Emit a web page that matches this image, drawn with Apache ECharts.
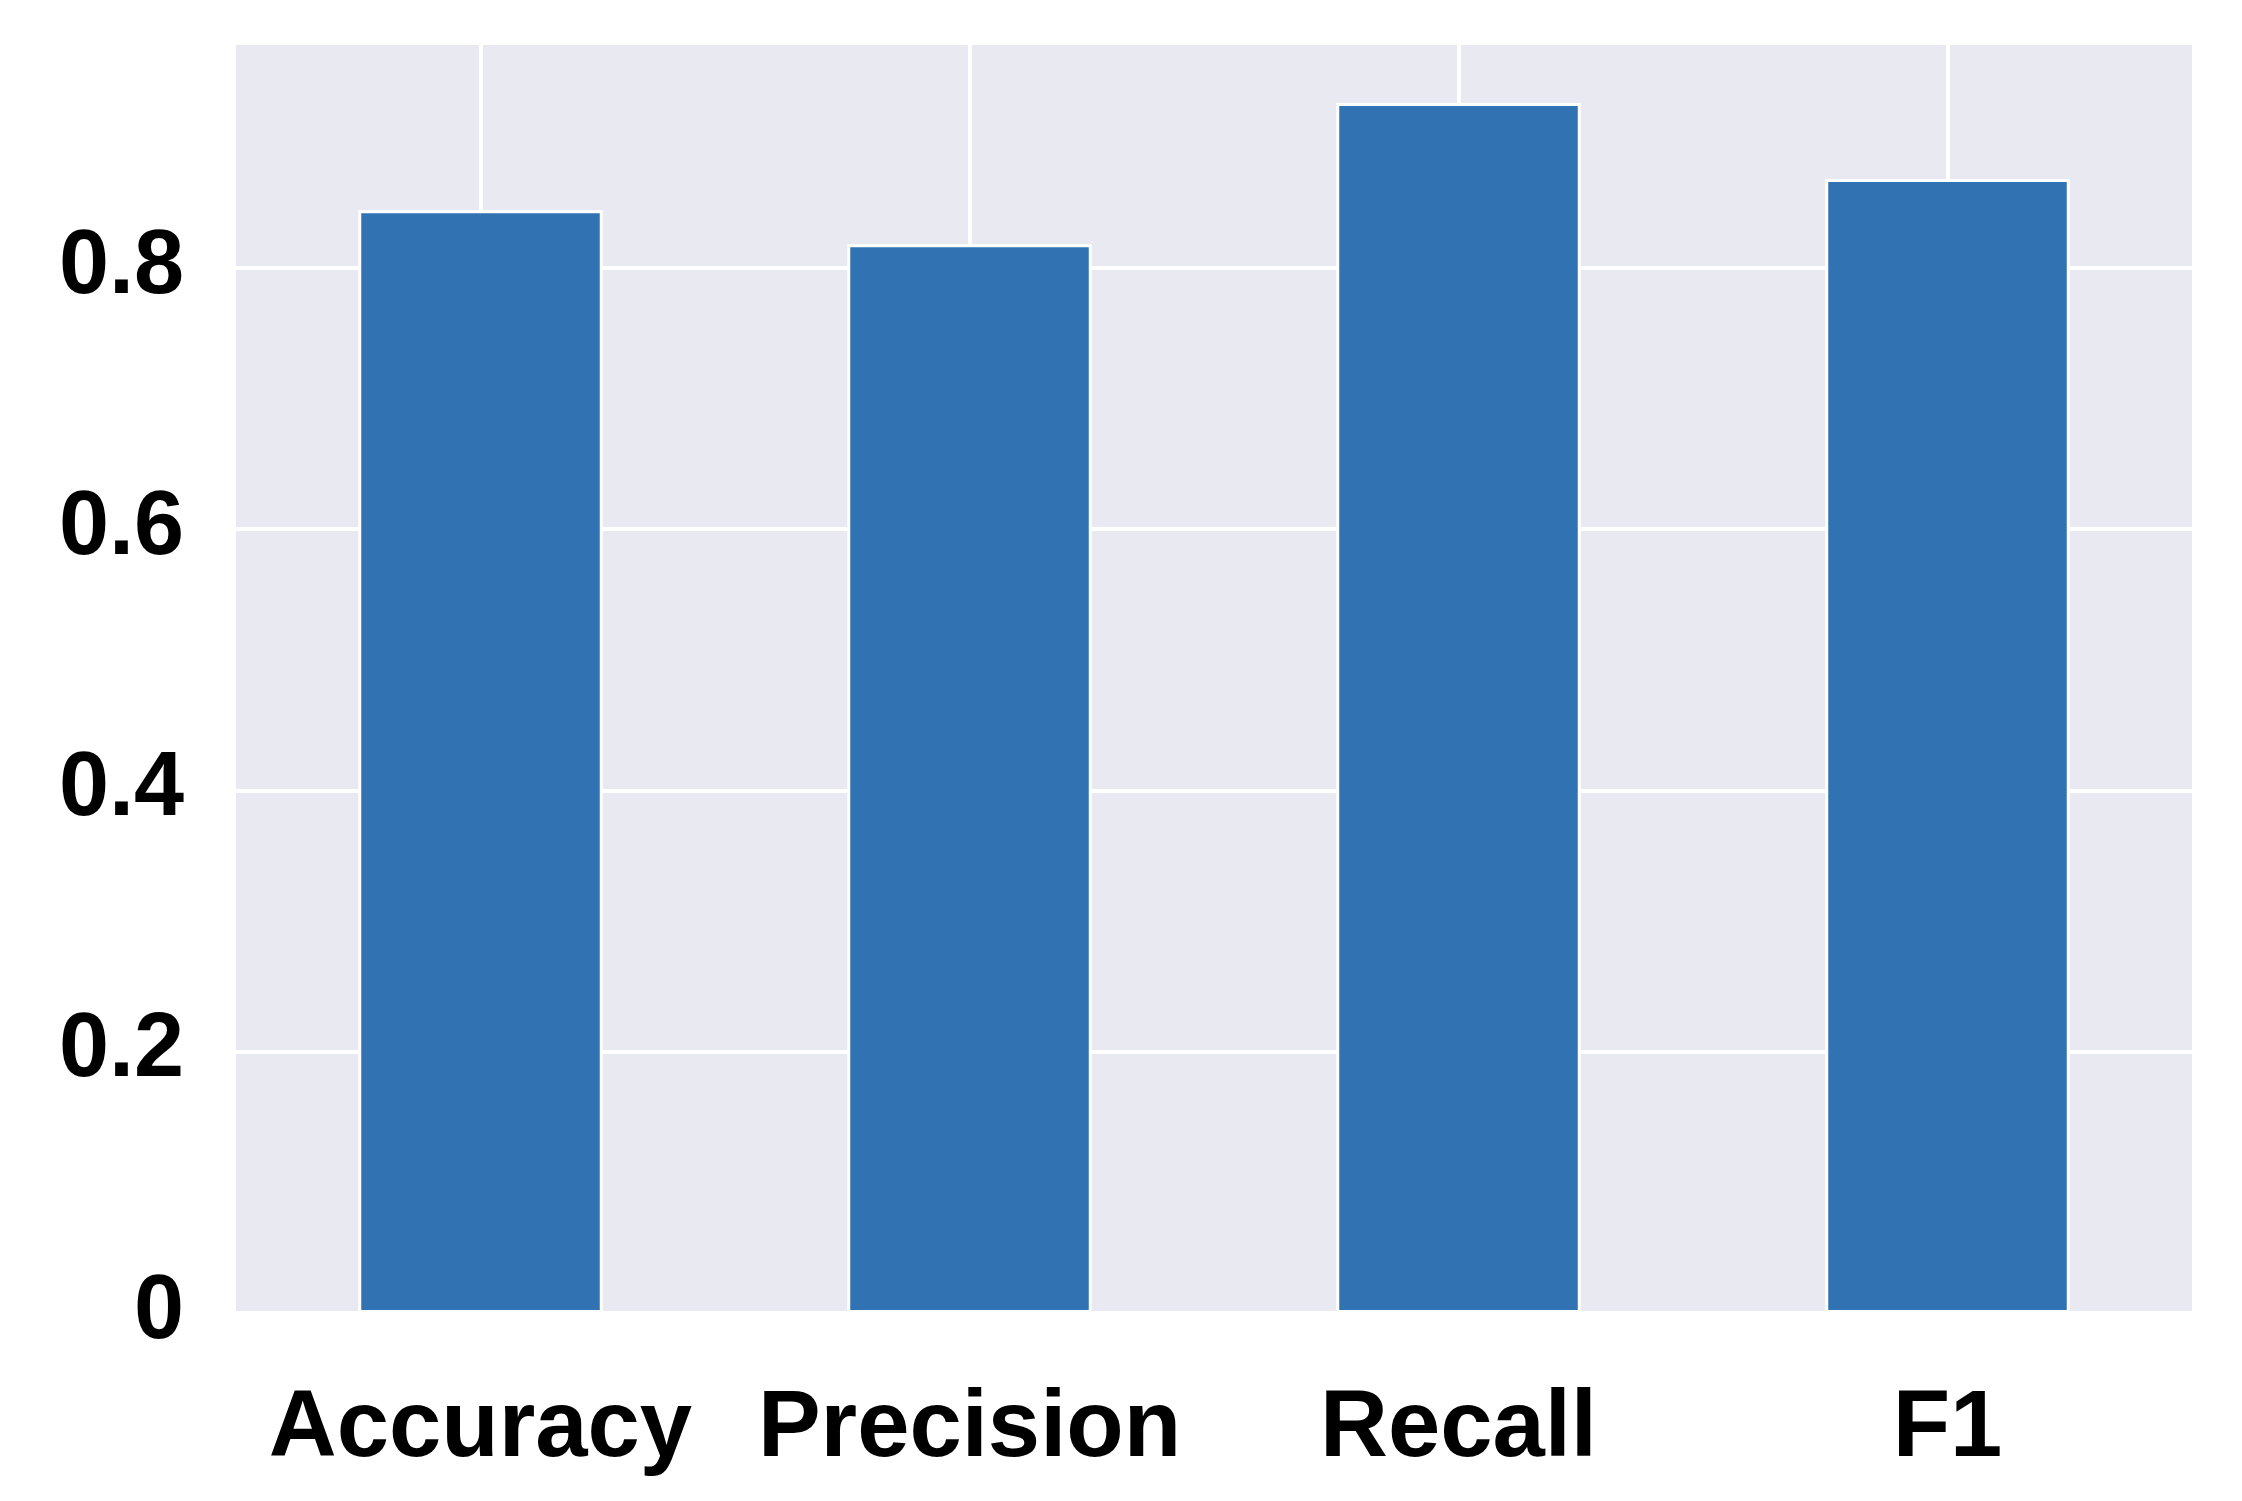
<!DOCTYPE html>
<html>
<head>
<meta charset="utf-8">
<script src="https://cdn.jsdelivr.net/npm/echarts@6/dist/echarts.min.js"></script>
<style>
html,body{margin:0;padding:0;background:#fff;}
#chart{width:2242px;height:1501px;}
</style>
</head>
<body>
<div id="chart"></div>
<script>
const categories = ['Accuracy', 'Precision', 'Recall', 'F1'];
const values = [0.844, 0.818, 0.926, 0.868];
const yTicks = [0, 0.2, 0.4, 0.6, 0.8];
const yMax = 0.972;

const chart = echarts.init(document.getElementById('chart'), null, {renderer: 'canvas'});
const fontFamily = '"Liberation Sans", Arial, sans-serif';
chart.setOption({
  animation: false,
  backgroundColor: '#ffffff',
  grid: {
    left: 236, right: 50, top: 43, bottom: 188,
    show: true, backgroundColor: '#E8E9F1', borderWidth: 0
  },
  xAxis: {
    type: 'category',
    data: categories,
    boundaryGap: true,
    axisLine: {show: false},
    axisTick: {show: false},
    splitLine: {show: false},
    axisLabel: {
      interval: 0, hideOverlap: false,
      color: '#000', fontWeight: 'bold', fontSize: 94, fontFamily: fontFamily, margin: 70
    }
  },
  yAxis: {
    type: 'value',
    min: 0, max: yMax, interval: 0.2,
    axisLine: {show: false},
    axisTick: {show: false},
    splitLine: {show: true, lineStyle: {color: '#ffffff', width: 4}},
    axisLabel: {
      color: '#000', fontWeight: 'bold', fontSize: 90, fontFamily: fontFamily, margin: 52,
      formatter: function (v) {
        const t = yTicks.find(x => Math.abs(x - v) < 1e-9);
        if (t === undefined) return '';
        return t === 0 ? '0' : t.toFixed(1);
      }
    }
  },
  series: [
    {
      type: 'line',
      data: [],
      silent: true,
      z: 1,
      markLine: {
        silent: true,
        z: 1,
        symbol: ['none', 'none'],
        label: {show: false},
        lineStyle: {color: '#ffffff', width: 4, type: 'solid'},
        data: categories.map(c => ({xAxis: c}))
      }
    },
    {
      type: 'bar',
      data: values,
      barWidth: '50%',
      z: 2,
      itemStyle: {color: '#3173B2', borderColor: '#ffffff', borderWidth: 3}
    }
  ]
});
</script>
</body>
</html>
